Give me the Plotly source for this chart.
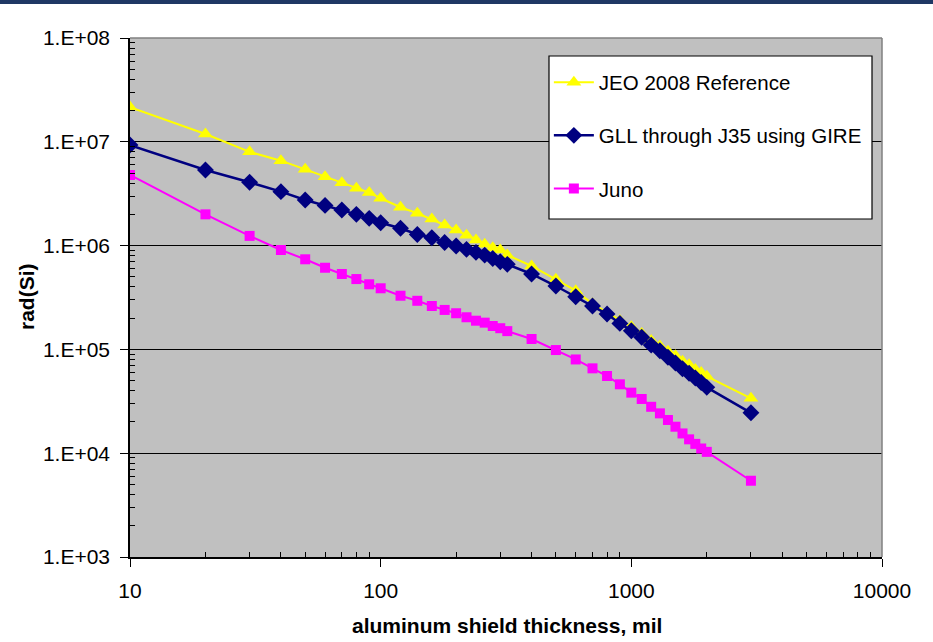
import plotly.graph_objects as go

thickness = [10, 20, 30, 40, 50, 60, 70, 80, 90, 100,
             120, 140, 160, 180, 200, 220, 240, 260, 280, 300, 320,
             400, 500, 600, 700, 800, 900, 1000,
             1100, 1200, 1300, 1400, 1500, 1600, 1700, 1800, 1900, 2000, 3000]

jeo_2008 = [2.16e7, 1.19e7, 8.0e6, 6.58e6, 5.43e6, 4.61e6, 4.04e6, 3.56e6, 3.24e6, 2.86e6,
            2.34e6, 2.05e6, 1.80e6, 1.58e6, 1.41e6, 1.26e6, 1.13e6, 1.03e6, 9.55e5, 9.07e5, 8.1e5,
            6.36e5, 4.73e5, 3.68e5, 2.75e5, 2.28e5, 1.90e5, 1.65e5,
            1.42e5, 1.22e5, 1.08e5, 9.6e4, 8.7e4, 7.7e4, 7.1e4, 6.4e4, 6.0e4, 5.5e4, 3.38e4]

gll_gire = [9.3e6, 5.35e6, 4.07e6, 3.31e6, 2.75e6, 2.44e6, 2.20e6, 2.0e6, 1.83e6, 1.66e6,
            1.47e6, 1.28e6, 1.19e6, 1.07e6, 9.9e5, 9.2e5, 8.6e5, 8.1e5, 7.5e5, 7.0e5, 6.6e5,
            5.33e5, 4.08e5, 3.22e5, 2.62e5, 2.19e5, 1.78e5, 1.51e5,
            1.31e5, 1.10e5, 9.7e4, 8.4e4, 7.4e4, 6.5e4, 5.9e4, 5.3e4, 4.8e4, 4.31e4, 2.45e4]

juno = [4.79e6, 2.0e6, 1.24e6, 9.07e5, 7.38e5, 6.12e5, 5.33e5, 4.76e5, 4.24e5, 3.88e5,
        3.29e5, 2.94e5, 2.62e5, 2.40e5, 2.23e5, 2.04e5, 1.89e5, 1.81e5, 1.68e5, 1.60e5, 1.50e5,
        1.26e5, 9.86e4, 8.0e4, 6.57e4, 5.54e4, 4.61e4, 3.83e4,
        3.33e4, 2.80e4, 2.42e4, 2.09e4, 1.80e4, 1.55e4, 1.36e4, 1.23e4, 1.11e4, 1.03e4, 5.43e3]

x_tickvals = [10, 100, 1000, 10000]
x_ticktext = ["10", "100", "1000", "10000"]
y_tickvals = [1e3, 1e4, 1e5, 1e6, 1e7, 1e8]
y_ticktext = ["1.E+03", "1.E+04", "1.E+05", "1.E+06", "1.E+07", "1.E+08"]

x_minor = [m * d for d in (10, 100, 1000) for m in range(2, 10)]
y_minor = [m * d for d in (1e3, 1e4, 1e5, 1e6, 1e7) for m in range(2, 10)]

font = "Liberation Sans, Arial, sans-serif"

fig = go.Figure()
fig.add_trace(go.Scatter(x=thickness, y=jeo_2008, name="JEO 2008 Reference", mode="lines+markers",
                         line=dict(color="#FFFF00", width=2),
                         marker=dict(symbol="triangle-up", size=13, color="#FFFF00"),
                         legendgroup="a"))
fig.add_trace(go.Scatter(x=thickness, y=gll_gire, name="GLL through J35 using GIRE", mode="lines+markers",
                         line=dict(color="#000080", width=2.5),
                         marker=dict(symbol="diamond", size=13, color="#000080"),
                         legendgroup="b"))
fig.add_trace(go.Scatter(x=thickness, y=juno, name="Juno", mode="lines+markers",
                         line=dict(color="#FF00FF", width=2),
                         marker=dict(symbol="square", size=10, color="#FF00FF"),
                         legendgroup="c"))

fig.update_layout(
    width=933, height=642,
    margin=dict(l=130, r=51, t=38, b=85, autoexpand=False),
    paper_bgcolor="white",
    plot_bgcolor="#C0C0C0",
    font=dict(family=font, size=21, color="black"),
    showlegend=True,
    legend=dict(x=0.557, y=0.953, xanchor="left", yanchor="top",
                bgcolor="rgba(0,0,0,0)", borderwidth=0,
                font=dict(size=20.5, family=font),
                traceorder="grouped", tracegroupgap=23.5,
                itemwidth=40),
    shapes=[
        dict(type="rect", xref="paper", yref="paper",
             x0=(549 - 130) / 752, x1=(872 - 130) / 752,
             y0=(557 - 219) / 519, y1=(557 - 56) / 519,
             fillcolor="white", line=dict(color="black", width=1.2), layer="above"),
        dict(type="rect", xref="paper", yref="paper",
             x0=-130 / 752, x1=(933 - 130) / 752,
             y0=1 + 34 / 519, y1=1 + 38 / 519,
             fillcolor="#1F3864", line=dict(width=0), layer="above"),
        dict(type="line", xref="paper", yref="paper", x0=0, x1=1, y0=1, y1=1,
             line=dict(color="#808080", width=1.5)),
        dict(type="line", xref="paper", yref="paper", x0=1, x1=1, y0=0, y1=1,
             line=dict(color="#808080", width=1.5)),
    ],
    annotations=[
        dict(text="<b>rad(Si)</b>", xref="paper", yref="paper",
             x=(26 - 130) / 752, y=(557 - 297) / 519, textangle=-90,
             showarrow=False, font=dict(size=21, family=font),
             xanchor="center", yanchor="middle"),
        dict(text="<b>aluminum shield thickness, mil</b>", xref="paper", yref="paper",
             x=(507 - 130) / 752, y=(557 - 625) / 519,
             showarrow=False, font=dict(size=21, family=font),
             xanchor="center", yanchor="middle"),
    ],
)

fig.update_xaxes(
    type="log", range=[1, 4], automargin=False,
    tickvals=x_tickvals, ticktext=x_ticktext,
    ticks="outside", ticklen=8, tickcolor="black",
    ticklabelstandoff=6,
    showline=True, linecolor="black", linewidth=1.5,
    showgrid=False, zeroline=False,
    tickfont=dict(size=21, family=font),
    minor=dict(tickvals=x_minor, ticks="inside", ticklen=5, tickcolor="black", showgrid=False),
)
fig.update_yaxes(
    type="log", range=[3, 8], automargin=False,
    tickvals=y_tickvals, ticktext=y_ticktext,
    ticks="outside", ticklen=8, tickcolor="black",
    ticklabelstandoff=6,
    showline=True, linecolor="black", linewidth=1.5,
    showgrid=True, gridcolor="black", gridwidth=1,
    zeroline=False,
    tickfont=dict(size=21, family=font),
    minor=dict(tickvals=y_minor, ticks="inside", ticklen=5, tickcolor="black", showgrid=False),
)

fig.write_html("out.html", config={"displayModeBar": False},
               post_script="document.body.style.margin='0';document.body.style.padding='0';")
